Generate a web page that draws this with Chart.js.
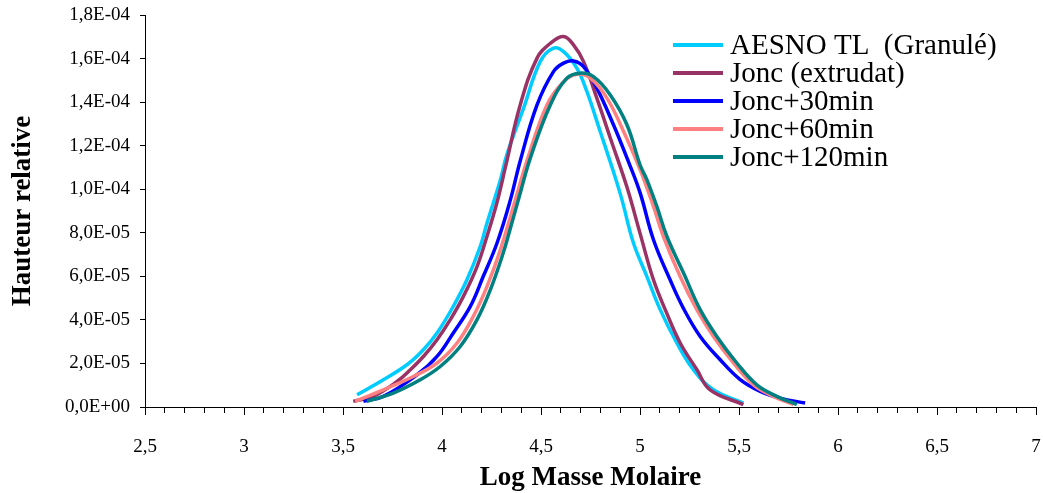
<!DOCTYPE html>
<html>
<head>
<meta charset="utf-8">
<script src="https://cdn.jsdelivr.net/npm/chart.js@4"></script>
<style>
  body { margin: 0; background: #fff; }
  #wrap { width: 1043px; height: 493px; }
</style>
</head>
<body>
<div id="wrap"><canvas id="chart" width="1043" height="493"></canvas></div>
<script>
// Log masse molaire (x) and hauteur relative in units of 1e-5 (y)
const aesnoX = [3.571, 3.689, 3.823, 3.906, 3.975, 4.057, 4.126, 4.193, 4.227, 4.294, 4.328, 4.412, 4.496, 4.563, 4.614, 4.681, 4.732, 4.799, 4.866, 4.909, 4.967, 5.035, 5.102, 5.186, 5.270, 5.371, 5.522];
const aesnoY = [0.56, 1.17, 1.94, 2.63, 3.40, 4.62, 5.84, 7.37, 8.44, 10.40, 11.60, 13.72, 15.86, 16.48, 16.32, 15.56, 14.48, 12.65, 10.80, 9.51, 7.53, 5.99, 4.47, 2.94, 1.71, 0.79, 0.18];

const joncX = [3.552, 3.653, 3.773, 3.840, 3.906, 3.975, 4.042, 4.108, 4.177, 4.227, 4.278, 4.320, 4.395, 4.480, 4.547, 4.614, 4.664, 4.715, 4.782, 4.850, 4.934, 5.001, 5.068, 5.135, 5.203, 5.287, 5.354, 5.522];
const joncY = [0.26, 0.49, 1.17, 1.71, 2.32, 3.09, 4.01, 5.08, 6.45, 7.83, 9.40, 11.00, 13.87, 16.02, 16.70, 17.01, 16.63, 15.86, 14.18, 12.35, 10.10, 7.95, 5.84, 4.31, 2.94, 1.72, 0.79, 0.11];

const jonc30X = [3.603, 3.704, 3.874, 3.975, 4.057, 4.143, 4.208, 4.278, 4.345, 4.395, 4.480, 4.563, 4.614, 4.664, 4.715, 4.782, 4.866, 4.940, 5.001, 5.068, 5.152, 5.220, 5.304, 5.405, 5.506, 5.607, 5.708, 5.834];
const jonc30Y = [0.26, 0.49, 1.48, 2.32, 3.40, 4.62, 5.99, 7.53, 9.50, 11.30, 13.87, 15.40, 15.79, 15.89, 15.63, 14.64, 12.96, 11.30, 9.82, 7.68, 5.84, 4.52, 3.24, 2.17, 1.26, 0.72, 0.41, 0.18];

const jonc60X = [3.562, 3.704, 3.855, 3.975, 4.076, 4.158, 4.227, 4.294, 4.370, 4.429, 4.530, 4.614, 4.681, 4.749, 4.833, 4.917, 5.001, 5.068, 5.119, 5.203, 5.287, 5.371, 5.472, 5.573, 5.674, 5.775];
const jonc60Y = [0.26, 0.79, 1.40, 2.02, 2.94, 4.16, 5.53, 7.20, 9.50, 11.30, 13.87, 14.94, 15.28, 15.10, 14.18, 12.65, 10.89, 9.21, 7.80, 5.99, 4.47, 3.24, 2.02, 1.02, 0.49, 0.11];

const jonc120X = [3.620, 3.754, 3.890, 3.991, 4.092, 4.177, 4.244, 4.309, 4.345, 4.390, 4.446, 4.547, 4.631, 4.698, 4.765, 4.850, 4.934, 5.001, 5.035, 5.085, 5.136, 5.220, 5.304, 5.388, 5.489, 5.590, 5.691, 5.792];
const jonc120Y = [0.26, 0.64, 1.25, 1.86, 2.78, 4.01, 5.38, 7.07, 8.20, 9.65, 11.43, 13.87, 15.10, 15.33, 15.17, 14.33, 12.96, 11.10, 10.43, 9.21, 7.83, 6.15, 4.47, 3.24, 2.02, 1.02, 0.49, 0.11];

const seriesLabels = ['AESNO TL  (Granulé)', 'Jonc (extrudat)', 'Jonc+30min', 'Jonc+60min', 'Jonc+120min'];
const seriesColors = ['#00CCFF', '#993366', '#0000FF', '#FF8080', '#008080'];
const seriesX = [aesnoX, joncX, jonc30X, jonc60X, jonc120X];
const seriesY = [aesnoY, joncY, jonc30Y, jonc60Y, jonc120Y];
const yUnit = 1e-5;

const FONT = "'Liberation Serif', 'Times New Roman', serif";

function formatSci(value) {
    const [mant, exp] = value.toExponential(1).split('e');
    const e = parseInt(exp, 10);
    const sign = e < 0 ? '-' : '+';
    return mant.replace('.', ',') + 'E' + sign + String(Math.abs(e)).padStart(2, '0');
}

function isHalf(value) {
    return Math.abs(value * 2 - Math.round(value * 2)) < 1e-6;
}

// legend drawn at the top right, inside the plot
const legendPlugin = {
    id: 'sideLegend',
    afterDraw(chart) {
        const ctx = chart.ctx;
        ctx.save();
        ctx.font = '29px ' + FONT;
        ctx.textBaseline = 'middle';
        ctx.fillStyle = '#000';
        chart.data.datasets.forEach((ds, i) => {
            const y = 45 + i * 28;
            ctx.strokeStyle = ds.borderColor;
            ctx.lineWidth = 4;
            ctx.beginPath();
            ctx.moveTo(673, y);
            ctx.lineTo(723, y);
            ctx.stroke();
            ctx.fillText(ds.label, 730, y + 1);
        });
        ctx.restore();
    }
};

const datasets = seriesLabels.map((label, i) => ({
    label: label,
    data: seriesX[i].map((x, k) => ({ x: x, y: seriesY[i][k] * yUnit })),
    borderColor: seriesColors[i],
    backgroundColor: seriesColors[i],
    borderWidth: 3.5,
    pointRadius: 0,
    fill: false,
    tension: 0.4,
    order: seriesLabels.length - i
}));

const ctx = document.getElementById('chart').getContext('2d');
new Chart(ctx, {
    type: 'line',
    data: { datasets: datasets },
    options: {
        responsive: false,
        animation: false,
        devicePixelRatio: 1,
        layout: { padding: { top: 15, right: 7, left: 0, bottom: 0 } },
        plugins: {
            legend: { display: false },
            tooltip: { enabled: false }
        },
        scales: {
            x: {
                type: 'linear',
                min: 2.5,
                max: 7,
                afterFit: (scale) => {
                    scale.height = 86;
                    scale.paddingLeft = 0;
                    scale.paddingRight = 0;
                },
                border: { display: true, color: '#000', width: 1 },
                grid: {
                    drawOnChartArea: false,
                    drawTicks: true,
                    tickLength: 8,
                    color: '#000',
                    tickBorderDash: (c) => (c.tick && isHalf(c.tick.value)) ? [] : [5, 20]
                },
                ticks: {
                    stepSize: 0.1,
                    maxTicksLimit: 100,
                    autoSkip: false,
                    maxRotation: 0,
                    padding: 21,
                    color: '#000',
                    font: { family: FONT, size: 19 },
                    callback: (value) => isHalf(value) ? String(Math.round(value * 2) / 2).replace('.', ',') : ''
                },
                title: {
                    display: true,
                    text: 'Log Masse Molaire',
                    color: '#000',
                    font: { family: FONT, size: 27, weight: 'bold' },
                    padding: { top: 0, bottom: -1 }
                }
            },
            y: {
                min: 0,
                max: 1.8e-4,
                afterFit: (scale) => {
                    scale.width = 145;
                    scale.paddingTop = 0;
                    scale.paddingBottom = 0;
                },
                border: { display: true, color: '#000', width: 1 },
                grid: {
                    drawOnChartArea: false,
                    drawTicks: true,
                    tickLength: 5,
                    color: '#000'
                },
                ticks: {
                    stepSize: 2e-5,
                    padding: 10,
                    color: '#000',
                    font: { family: FONT, size: 19 },
                    callback: (value) => formatSci(value)
                },
                title: {
                    display: true,
                    text: 'Hauteur relative',
                    color: '#000',
                    font: { family: FONT, size: 27, weight: 'bold' },
                    padding: { top: 7, bottom: 0 }
                }
            }
        }
    },
    plugins: [legendPlugin]
});
</script>
</body>
</html>
